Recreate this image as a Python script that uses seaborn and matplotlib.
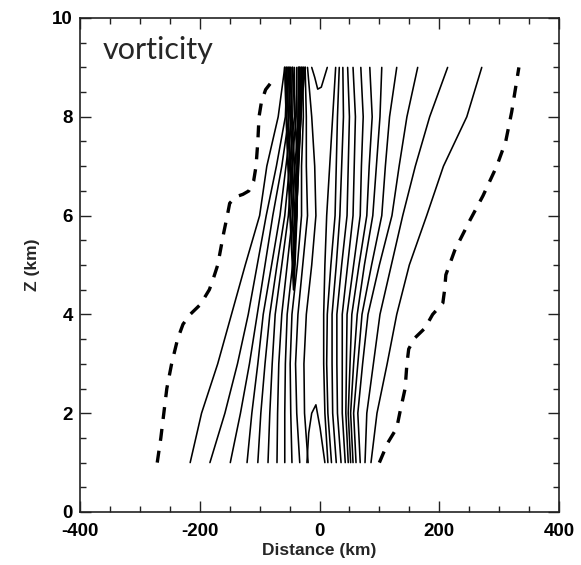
import matplotlib
matplotlib.use("Agg")
import matplotlib.pyplot as plt
import seaborn as sns
from matplotlib.ticker import MultipleLocator

# ---------------- data (km) ----------------
Z_LEVELS = [1, 2, 3, 4, 5, 6, 7, 8, 9]

# left (negative-side) solid contours: x position at each Z level
left_lines = [
    [-216, -197, -170, -147, -124, -100, -88, -69, -58],
    [-183, -158, -137, -119, -104, -89, -72, -57, -54],
    [-149, -132, -117, -104, -91, -78, -63, -51, -50],
    [-121, -113, -103, -94, -80, -66, -56, -46, -46],
    [-103, -98, -91, -83, -71, -58, -50, -42, -42],
    [-86, -83, -79, -74, -63, -52, -46, -39, -38],
    [-71, -70, -68, -63, -54, -45, -41, -35, -34],
    [-58, -58, -57, -54, -45, -38, -36, -31, -31],
    [-46, -48, -49, -46, -37, -30, -30, -27, -28],
    [-33, -38, -40, -36, -28, -20, -22, -22, -24],
    [-19, -25, -26, -22, -13, -6, -8, -13, -20],
]

# right (positive-side) solid contours
right_lines = [
    [14, 9, 7, 7, 9, 12, 17, 22, 27],
    [20, 14, 12, 13, 19, 26, 28, 30, 33],
    [28, 22, 21, 21, 28, 34, 37, 40, 39],
    [36, 30, 29, 29, 37, 46, 48, 50, 47],
    [43, 38, 38, 38, 47, 56, 58, 60, 56],
    [48, 44, 45, 46, 57, 68, 70, 73, 69],
    [52, 48, 51, 54, 66, 79, 83, 88, 84],
    [56, 52, 57, 63, 75, 89, 95, 101, 104],
    [61, 57, 64, 71, 87, 104, 110, 117, 129],
    [68, 64, 72, 81, 100, 121, 133, 146, 164],
    [76, 79, 90, 101, 120, 139, 160, 184, 214],
    [86, 96, 113, 129, 150, 179, 207, 246, 271],
]

# hairpin contours inside the core, arch near the ground, V at the top
hairpin_x = [
    [-58, -54, -49, -43, -38, -36, -35],
    [-55, -51, -46, -42, -39, -36, -33],
    [-52, -48, -44, -40, -37, -34, -30],
    [-49, -46, -42, -38, -35, -32, -27],
    [-45, -42, -39, -36, -33, -30, -24],
]
hairpin_z = [
    [9, 7.5, 6.0, 4.5, 6.0, 7.5, 9],
    [9, 7.6, 6.3, 5.0, 6.3, 7.6, 9],
    [9, 7.8, 6.6, 5.6, 6.6, 7.8, 9],
    [9, 8.0, 7.0, 6.3, 7.0, 8.0, 9],
    [9, 8.3, 7.6, 7.0, 7.6, 8.3, 9],
]
arch_x = [-21, -18, -13, -6, 1, 5, 9]
arch_z = [1.0, 1.6, 2.0, 2.17, 1.7, 1.35, 1.0]
vee_x = [-13, -8, -3, 3, 8, 13]
vee_z = [9.0, 8.8, 8.56, 8.6, 8.8, 9.0]

# dashed zero contours
dash_left_z = [1.0, 1.5, 2.0, 2.5, 3.0, 3.5, 3.8, 4.0, 4.2, 4.5, 4.7, 5.0, 5.65,
               6.0, 6.25, 6.38, 6.43, 6.5, 6.7, 7.0, 7.5, 8.0, 8.3, 8.55, 8.8]
dash_left_x = [-271, -265, -260, -255, -247, -237, -228, -216, -199, -184, -178,
               -170, -160, -154, -150, -140, -128, -118, -110, -106, -103, -101,
               -97, -90, -74]
dash_right_z = [1.0, 1.4, 1.7, 2.0, 2.5, 3.0, 3.3, 3.52, 3.72, 4.0, 4.23, 4.5,
                4.8, 5.3, 5.9, 6.4, 7.0, 7.5, 8.1, 9.0]
dash_right_x = [100, 114, 129, 134, 143, 146, 149, 159, 176, 189, 206, 209, 211,
                226, 251, 273, 296, 311, 321, 333]

x_ticks = [-400, -200, 0, 200, 400]
y_ticks = [0, 2, 4, 6, 8, 10]

# ---------------- figure ----------------
sns.set_style("ticks")
plt.rcParams["font.family"] = ["Liberation Sans", "DejaVu Sans"]
plt.rcParams["axes.unicode_minus"] = False

W, H = 581, 565
fig = plt.figure(figsize=(W / 100, H / 100), dpi=100)
ax = fig.add_axes([80 / W, 1 - 512 / H, (559 - 80) / W, (512 - 18) / H])

solid_kw = dict(sort=False, estimator=None, color="black", linewidth=1.15, ax=ax)
for xs in left_lines + right_lines:
    sns.lineplot(x=xs, y=Z_LEVELS, **solid_kw)
for xs, zs in zip(hairpin_x, hairpin_z):
    sns.lineplot(x=xs, y=zs, sort=False, estimator=None, color="black",
                 linewidth=1.5, ax=ax)
sns.lineplot(x=arch_x, y=arch_z, **solid_kw)
sns.lineplot(x=vee_x, y=vee_z, **solid_kw)

for xs, zs in [(dash_left_x, dash_left_z), (dash_right_x, dash_right_z)]:
    sns.lineplot(x=xs, y=zs, sort=False, estimator=None, color="black",
                 linewidth=2.4, linestyle=(0, (3.6, 3.0)), ax=ax)

ax.set_xlim(-400, 400)
ax.set_ylim(0, 10)
ax.set_xticks(x_ticks)
ax.set_yticks(y_ticks)
ax.xaxis.set_minor_locator(MultipleLocator(50))
ax.yaxis.set_minor_locator(MultipleLocator(0.5))
ax.tick_params(which="both", direction="in", top=True, right=True,
               width=1.0, colors="#222222")
ax.tick_params(which="major", length=8)
ax.tick_params(which="minor", length=4)
ax.tick_params(axis="x", which="major", pad=8)
ax.tick_params(axis="y", which="major", pad=5)
for lab in ax.get_xticklabels() + ax.get_yticklabels():
    lab.set_fontsize(13.5)
    lab.set_fontweight("bold")
    lab.set_color("black")
for sp in ax.spines.values():
    sp.set_linewidth(1.2)
    sp.set_color("#222222")

ax.set_xlabel("Distance (km)", fontsize=12.5, fontweight="bold", labelpad=2)
ax.set_ylabel("Z (km)", fontsize=12.5, fontweight="bold", labelpad=9)

ax.text(-362, 9.35, "vorticity", ha="left", va="center", fontsize=22,
        family=["Lato", "DejaVu Sans"])

fig.savefig("out.png", dpi=100)
